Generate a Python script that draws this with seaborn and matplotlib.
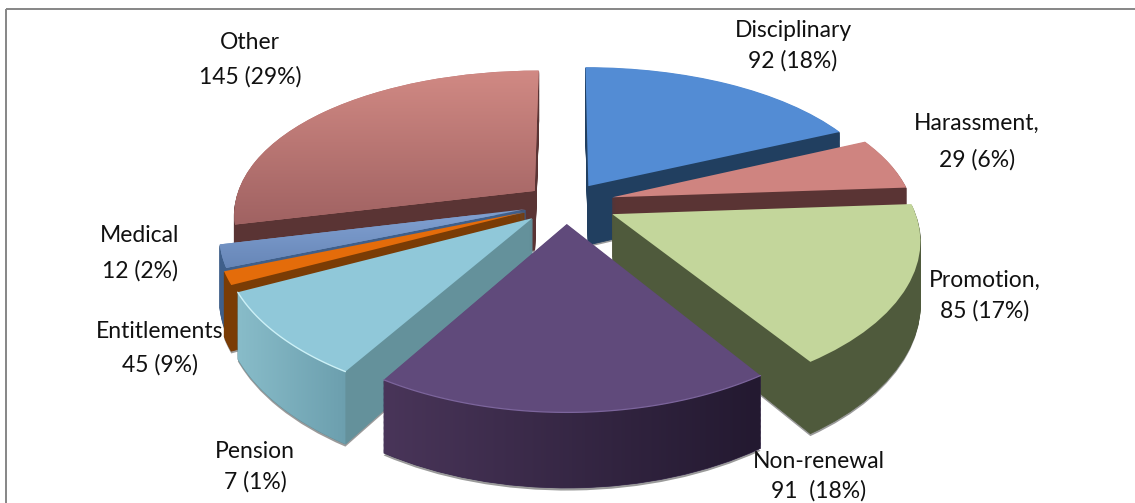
import numpy as np
import matplotlib
matplotlib.use("Agg")
import matplotlib.pyplot as plt
from matplotlib.colors import LinearSegmentedColormap
from matplotlib.patches import PathPatch, Rectangle
from matplotlib.path import Path
from matplotlib.transforms import Transform
import seaborn as sns

categories = ["Disciplinary", "Harassment,", "Promotion,", "Non-renewal", "Pension", "Entitlements", "Medical", "Other"]
count_labels = ["92 (18%)", "29 (6%)", "85 (17%)", "91  (18%)", "7 (1%)", "45 (9%)", "12 (2%)", "145 (29%)"]
# the slices really drawn: light blue is the 45 one and orange the 7 one,
# the original has those two labels swapped
slice_values = [92, 29, 85, 91, 45, 7, 12, 145]

top_colors = ["#538cd4", "#cf8480", "#c3d69b", "#604a7b", "#90c8d9", "#e46c0a", "#7b9ccc", "#c07c7a"]
side_colors = ["#213f60", "#5a3434", "#4f5a3c", "#3a2a50", "#64919b", "#7a3c05", "#3f5f8a", "#5a3434"]
explode = [0.14, 0.16, 0.17, 0.14, 0.15, 0.15, 0.14, 0.135]
draw_order = [7, 0, 1, 6, 5, 4, 2, 3]

# label x centre and y of the two text lines, in pixels
label_pos = [(793, 30, 61), (977, 123, 160), (985, 280, 311), (819, 461, 491),
             (255, 451, 482), (160, 332, 365), (140, 235, 271), (250, 42, 77)]

CX, CY = 566, 203
RX, RY = 300, 146
TILT_X, TILT_Y = 0.15, 0.18
DEPTH = 60


class TiltTransform(Transform):
    """Flat pie coordinates to pixels, front of the pie is bigger. z=1 is the underside."""
    input_dims = 2
    output_dims = 2

    def __init__(self, z=0.0):
        super().__init__()
        self.z = z

    def transform_non_affine(self, xy):
        xy = np.asarray(xy, dtype=float)
        sx = 1 / (1 + TILT_X * xy[:, 1])
        sy = 1 / (1 + TILT_Y * xy[:, 1])
        return np.column_stack([CX + xy[:, 0] * RX * sx,
                                CY - xy[:, 1] * RY * sy + self.z * DEPTH * sy])


def arc_points(w, n=80):
    t = np.radians(np.linspace(w.theta1, w.theta2, n))
    return np.column_stack([w.center[0] + w.r * np.cos(t), w.center[1] + w.r * np.sin(t)])


def gradient(ax, clip, transform, box, c1, c2, vertical, zorder):
    g = np.linspace(0, 1, 128)
    g = g[:, None] if vertical else g[None, :]
    cmap = LinearSegmentedColormap.from_list("g", [c1, c2])
    im = ax.imshow(g, cmap=cmap, extent=(box[0], box[2], box[3], box[1]), origin="upper",
                   aspect="auto", zorder=zorder, interpolation="bilinear")
    if transform is None:
        im.set_clip_path(clip)
    else:
        im.set_clip_path(clip, transform)


sns.set_theme(style="white")
plt.rcParams["font.family"] = ["Lato", "DejaVu Sans"]

fig = plt.figure(figsize=(11.35, 5.03), dpi=100, facecolor="white")
ax = fig.add_axes([0, 0, 1, 1])

wedges, _ = ax.pie(slice_values, explode=explode, colors=top_colors, startangle=90, counterclock=False,
                   radius=1, wedgeprops={"linewidth": 0})
ax.set_aspect("auto")
ax.set_autoscale_on(False)
ax.set_xlim(0, 1135)
ax.set_ylim(503, 0)
ax.set_frame_on(False)

for rank, i in enumerate(draw_order):
    w = wedges[i]
    base = 10 + rank * 10
    path = w.get_path()

    # grey fringe under the rim, then the solid body built up in layers
    ax.add_patch(PathPatch(path, transform=TiltTransform(1.035) + ax.transData, fc="#9a9a9a", lw=0, zorder=base))
    for z in np.linspace(1, 0.02, 60):
        ax.add_patch(PathPatch(path, transform=TiltTransform(z) + ax.transData, fc=side_colors[i],
                               ec=side_colors[i], lw=0.6, zorder=base + 1))

    w.set_transform(TiltTransform(0) + ax.transData)
    w.set_zorder(base + 3)

    # curved outer wall shading for the two front slices
    arc = arc_points(w)
    upper = TiltTransform(0).transform_non_affine(arc)
    lower = TiltTransform(1).transform_non_affine(arc)
    if categories[i] == "Non-renewal":
        wall = Path(np.vstack([upper, lower[::-1], upper[:1]]))
        gradient(ax, wall, ax.transData, (lower[:, 0].min(), 0, lower[:, 0].max(), 503), "#493559", "#231930", False, base + 2)
        ax.plot(upper[:, 0], upper[:, 1], color="#7c659c", lw=0.9, zorder=base + 4)
    if categories[i] == "Pension":
        wall = Path(np.vstack([upper, lower[::-1], upper[:1]]))
        gradient(ax, wall, ax.transData, (upper[:, 0].min(), 0, upper[:, 0].max(), 503), "#88bcc9", "#6c9fae", False, base + 2)
        ax.plot(upper[:, 0], upper[:, 1], color="#cdf1f7", lw=1.0, zorder=base + 4)
    if categories[i] == "Other":
        gradient(ax, w, None, (0, 60, 1135, 225), "#d48c86", "#a06262", True, base + 3.5)
    if categories[i] == "Medical":
        gradient(ax, w, None, (0, 215, 1135, 275), "#7f9fd0", "#6483b4", True, base + 3.5)

# only the top and left edges of the chart frame are in the picture
ax.add_patch(Rectangle((6, 9), 1300, 600, fc="none", ec="#868686", lw=1.4, zorder=200))

for name, counts, (x, y1, y2) in zip(categories, count_labels, label_pos):
    ax.text(x, y1, name, ha="center", va="center", fontsize=16.5, color="#111111", zorder=210)
    ax.text(x, y2, counts, ha="center", va="center", fontsize=16.5, color="#111111", zorder=210)

fig.savefig("out.png", dpi=100)
